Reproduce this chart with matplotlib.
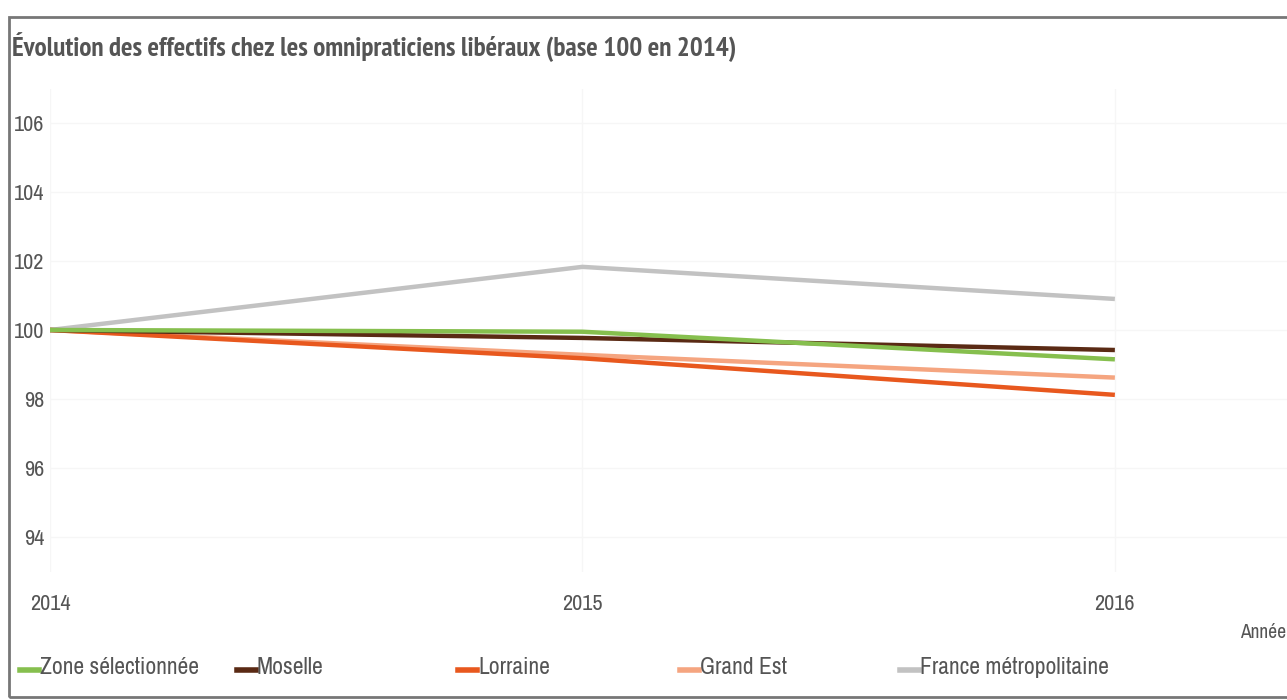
import matplotlib
matplotlib.use("Agg")
import matplotlib.pyplot as plt
from matplotlib.patches import Rectangle
from matplotlib.lines import Line2D

years = [2014, 2015, 2016]
zone = [100.0, 99.95, 99.15]
moselle = [100.0, 99.77, 99.42]
lorraine = [100.0, 99.18, 98.12]
grand_est = [100.0, 99.28, 98.62]
france = [100.0, 101.83, 100.9]

series_names = ["Zone sélectionnée", "Moselle", "Lorraine", "Grand Est", "France métropolitaine"]
series_vals = [zone, moselle, lorraine, grand_est, france]
colors = ["#86bf4e", "#5a2a14", "#e8581e", "#f5a580", "#c2c2c2"]
yticks = [94, 96, 98, 100, 102, 104, 106]

plt.rcParams['font.family'] = ['Archivo Narrow', 'PT Sans Narrow', 'DejaVu Sans']

fig = plt.figure(figsize=(12.87, 7.0), dpi=100)
W, H = 1287, 700

def fx(px):
    return px / W

def fy(py):
    return 1 - py / H

fig.patches.append(Rectangle((fx(9), fy(697)), fx(1400), fy(17) - fy(697),
                             transform=fig.transFigure, fill=False,
                             edgecolor="#777777", linewidth=2.0))

fig.text(fx(12), fy(47), "Évolution des effectifs chez les omnipraticiens libéraux (base 100 en 2014)",
         fontsize=19.5, fontweight="bold", color="#555555", va="center", ha="left",
         family=['PT Sans Narrow', 'Archivo Narrow', 'DejaVu Sans'])

ax = fig.add_axes([fx(50), fy(571.5), fx(1287) - fx(50), fy(88.5) - fy(571.5)])
ax.set_xlim(2014, 2016 + (1287 - 1115) / 532.0)
ax.set_ylim(93, 107)

order = [4, 3, 2, 1, 0]
for i in order:
    ax.plot(years, series_vals[i], color=colors[i], linewidth=3.2,
            solid_capstyle="butt", zorder=3 + (4 - i))

ax.set_yticks(yticks)
ax.set_yticklabels([str(t) for t in yticks], fontsize=16, color="#555555")
ax.set_xticks(years)
ax.set_xticklabels([str(y) for y in years], fontsize=16, color="#555555")
ax.tick_params(axis="both", length=0)
ax.tick_params(axis="x", pad=16)
ax.tick_params(axis="y", pad=4)
for s in ax.spines.values():
    s.set_visible(False)
ax.grid(True, color="#f6f6f6", linewidth=1.0, zorder=0)
ax.set_axisbelow(True)

fig.text(fx(1286), fy(632), "Année", fontsize=14, color="#555555", va="center", ha="right")

xs = [20, 237, 458, 680, 900]
for x, name, c in zip(xs, series_names, colors):
    fig.lines.append(Line2D([fx(x), fx(x + 19)], [fy(670), fy(670)], transform=fig.transFigure,
                            color=c, linewidth=4))
    fig.text(fx(x + 20), fy(668), name, fontsize=17, color="#555555", va="center", ha="left")

fig.savefig("out.png", dpi=100)
